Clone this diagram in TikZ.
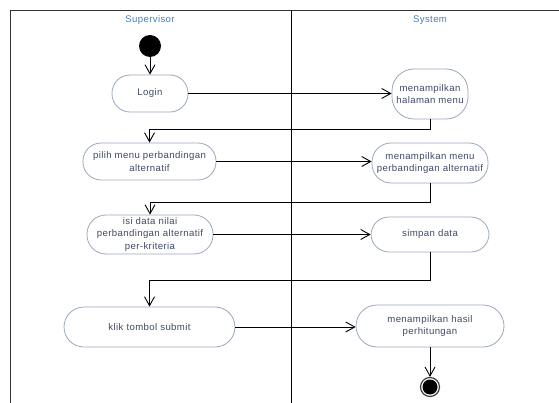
\documentclass[tikz,border=0pt]{standalone}
\usepackage{fontspec}
\setmainfont{Liberation Sans}
\newfontfamily\lanefont[LetterSpace=4]{Liberation Sans}
\usetikzlibrary{arrows.meta}
\definecolor{nodeline}{HTML}{9AA8BE}
\definecolor{nodetext}{HTML}{3E4A66}
\definecolor{headtext}{HTML}{4A7DB5}
\tikzset{
  act/.style={draw=nodeline, line width=0.8pt, fill=white, rounded corners=#1,
    text=nodetext, align=center, inner sep=2pt,
    font=\lanefont\fontsize{9.6}{12.5}\selectfont},
  act/.default=18pt,
  arr/.style={draw=black, line width=0.8pt, -{Straight Barb[length=9pt,width=10pt,line width=0.9pt]}},
  head/.style={text=headtext, font=\lanefont\fontsize{9.6}{11}\selectfont}
}
\begin{document}
\begin{tikzpicture}[x=1pt,y=-1pt]
\useasboundingbox (0,0) rectangle (559,403);
% swimlane frame
\coordinate (tl) at (10.5,10.5);
\coordinate (tr) at (559,10.5);
\coordinate (bl) at (10.5,403);
\coordinate (dt) at (291,10.5);
\coordinate (db) at (291,403);
\draw[line width=0.9pt, draw=black!80] (bl) -- (tl) -- (tr);
\draw[line width=0.9pt] (dt) -- (db);
\node[head] (hsup) at (150,20) {Supervisor};
\node[head] (hsys) at (430,20) {System};
% nodes
\node[circle, fill=black, minimum size=22pt, inner sep=0pt] (start) at (150,46) {};
\node[act, minimum width=76pt, minimum height=37pt] (login) at (150,93.5) {Login};
\node[act=22pt, minimum width=76pt, minimum height=50pt] (halaman) at (430,94) {menampilkan\\halaman menu};
\node[act, minimum width=133pt, minimum height=37pt] (pilih) at (149.5,161.5) {pilih menu perbandingan\\alternatif};
\node[act=19pt, minimum width=116pt, minimum height=40pt] (menu) at (430,163) {menampilkan menu\\perbandingan alternatif};
\node[act=19pt, minimum width=126pt, minimum height=39pt] (isi) at (150,234.5) {isi data nilai\\perbandingan alternatif\\per-kriteria};
\node[act, minimum width=118pt, minimum height=35pt] (simpan) at (430,234.5) {simpan data};
\node[act=20pt, minimum width=171pt, minimum height=40pt] (klik) at (149.5,327) {klik tombol submit};
\node[act=21pt, minimum width=148pt, minimum height=42pt] (hasil) at (430,326) {menampilkan hasil\\perhitungan};
\node[circle, draw=black!75, line width=1.2pt, fill=white, minimum size=19pt, inner sep=0pt] (endo) at (430,387) {};
\node[circle, fill=black, minimum size=15pt, inner sep=0pt] (endi) at (endo) {};
% connectors
\draw[arr] (start) -- (login);
\draw[arr] (login) -- (halaman.west |- login);
\draw[arr] (halaman.south) -- ++(0,10) -| (pilih.north);
\draw[arr] (pilih) -- (menu.west |- pilih);
\draw[arr] (menu.south) -- ++(0,19) -| (isi.north);
\draw[arr] (isi) -- (simpan.west |- isi);
\draw[arr] (simpan.south) -- ++(0,28) -| (klik.north);
\draw[arr] (klik) -- (hasil.west |- klik);
\draw[arr] (hasil) -- (endo);
\end{tikzpicture}
\end{document}
